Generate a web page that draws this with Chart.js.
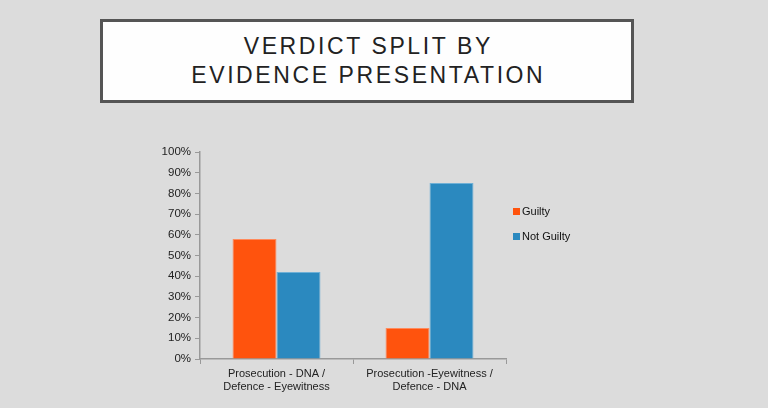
<!DOCTYPE html>
<html>
<head>
<meta charset="utf-8">
<script src="https://cdn.jsdelivr.net/npm/chart.js@4/dist/chart.umd.min.js"></script>
<style>
  html, body { margin: 0; padding: 0; background: #dcdcdc; }
  body { width: 768px; height: 408px; position: relative; overflow: hidden; font-family: "Liberation Sans", Arial, sans-serif; }
  #titlebox { position: absolute; left: 100px; top: 19px; width: 528px; height: 78px; background: #fefefe; border: 3px solid #555; }
  #title { position: absolute; left: 100px; top: 32px; width: 534px; padding-left: 2.6px; box-sizing: border-box; text-align: center; font-size: 23px; line-height: 29px; color: #222; letter-spacing: 2.6px; }
  #chartwrap { position: absolute; left: 0; top: 0; width: 768px; height: 408px; }
  .leg { position: absolute; left: 513px; font-size: 11px; color: #111; line-height: 12px; }
  .leg span { display: inline-block; width: 7px; height: 7px; margin-right: 2px; vertical-align: 0px; }
</style>
</head>
<body>
<div id="titlebox"></div>
<div id="title">VERDICT SPLIT BY<br>EVIDENCE PRESENTATION</div>
<div id="chartwrap"><canvas id="c" width="768" height="408"></canvas></div>
<div class="leg" style="top:205px"><span style="background:#ff530d"></span>Guilty</div>
<div class="leg" style="top:230px"><span style="background:#2b89bf"></span>Not Guilty</div>
<script>
const categories = [["Prosecution - DNA /", "Defence - Eyewitness"], ["Prosecution -Eyewitness /", "Defence - DNA"]];
const seriesNames = ["Guilty", "Not Guilty"];
const guilty = [58, 15];
const notGuilty = [42, 85];
const yTicks = [0, 10, 20, 30, 40, 50, 60, 70, 80, 90, 100];

const font = { family: "'Liberation Sans', Arial, sans-serif", size: 11 };
new Chart(document.getElementById('c'), {
  type: 'bar',
  data: {
    labels: categories,
    datasets: [
      { label: seriesNames[0], data: guilty, backgroundColor: '#ff530d', borderColor: '#ff8a5c', borderWidth: 1 },
      { label: seriesNames[1], data: notGuilty, backgroundColor: '#2b89bf', borderColor: '#6fb0d6', borderWidth: 1 }
    ]
  },
  options: {
    responsive: false,
    animation: false,
    layout: { padding: { left: 140, top: 152, right: 262, bottom: 9 } },
    plugins: { legend: { display: false }, tooltip: { enabled: false } },
    datasets: { bar: { categoryPercentage: 0.575, barPercentage: 1 } },
    scales: {
      x: {
        afterFit: s => { s.height = 40; },
        grid: { drawOnChartArea: false, tickLength: 5, color: '#999' },
        border: { color: '#999', width: 1.5 },
        ticks: { font: font, color: '#222', padding: 3, maxRotation: 0 }
      },
      y: {
        min: 0, max: 100,
        afterFit: s => { s.width = 60; },
        afterBuildTicks: s => { s.ticks = yTicks.map(v => ({ value: v })); },
        grid: { drawOnChartArea: false, tickLength: 5, color: '#999' },
        border: { color: '#999', width: 1.5 },
        ticks: { font: { family: font.family, size: 11.5 }, color: '#222', padding: 4, callback: v => v + '%' }
      }
    }
  }
});
</script>
</body>
</html>
